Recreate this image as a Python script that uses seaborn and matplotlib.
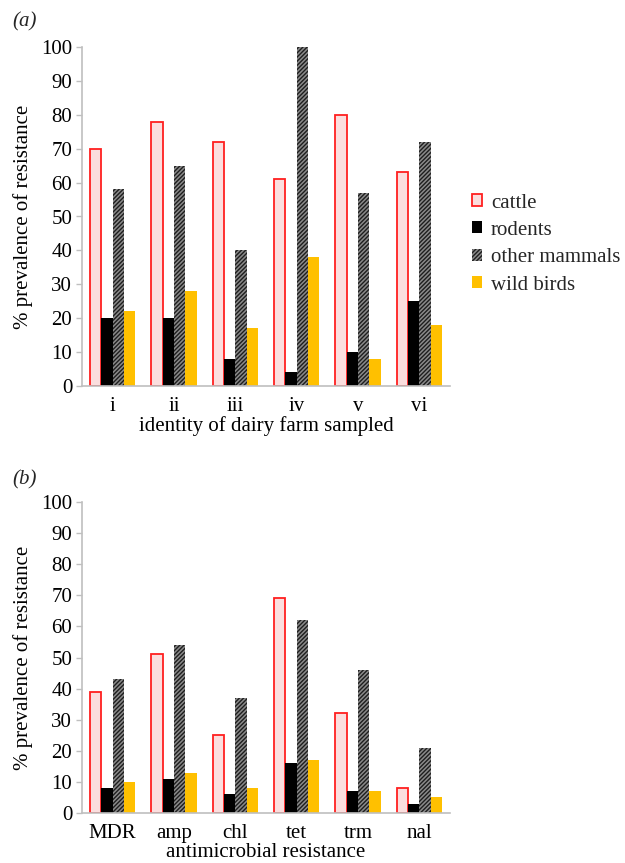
import matplotlib
matplotlib.use("Agg")
import matplotlib.pyplot as plt
import seaborn as sns
import pandas as pd
from matplotlib.patches import Patch

sns.set_theme(style="white")
plt.rcParams['font.family'] = ['Liberation Serif', 'DejaVu Serif']
plt.rcParams['hatch.linewidth'] = 1.0

series = ["cattle", "rodents", "other mammals", "wild birds"]

farms = ["i", "ii", "iii", "iv", "v", "vi"]
farm_cattle = [70, 78, 72, 61, 80, 63]
farm_rodents = [20, 20, 8, 4, 10, 25]
farm_other = [58, 65, 40, 100, 57, 72]
farm_birds = [22, 28, 17, 38, 8, 18]

drugs = ["MDR", "amp", "chl", "tet", "trm", "nal"]
drug_cattle = [39, 51, 25, 69, 32, 8]
drug_rodents = [8, 11, 6, 16, 7, 3]
drug_other = [43, 54, 37, 62, 46, 21]
drug_birds = [10, 13, 8, 17, 7, 5]

yticks = list(range(0, 101, 10))

styles = {
    "cattle": dict(facecolor="#fbdede", edgecolor="#ff2020", linewidth=1.3, hatch=None),
    "rodents": dict(facecolor="#000000", edgecolor="#000000", linewidth=0, hatch=None),
    "other mammals": dict(facecolor="#8a8a8a", edgecolor="#1e1e1e", linewidth=0, hatch="////////"),
    "wild birds": dict(facecolor="#ffc000", edgecolor="#ffc000", linewidth=0, hatch=None),
}


def make_df(cats, vals):
    rows = []
    for s, v in zip(series, vals):
        for c, x in zip(cats, v):
            rows.append({"cat": c, "series": s, "value": x})
    return pd.DataFrame(rows)


fig = plt.figure(figsize=(6.25, 8.63), dpi=100)
axA = fig.add_axes([82 / 625, 1 - 386 / 863, 368 / 625, 339 / 863])
axB = fig.add_axes([82 / 625, 1 - 813 / 863, 368 / 625, 311 / 863])

panels = [
    (axA, farms, [farm_cattle, farm_rodents, farm_other, farm_birds], "identity of dairy farm sampled"),
    (axB, drugs, [drug_cattle, drug_rodents, drug_other, drug_birds], "antimicrobial resistance"),
]

for ax, cats, vals, xlabel in panels:
    df = make_df(cats, vals)
    sns.barplot(data=df, x="cat", y="value", hue="series", order=cats,
                hue_order=series, width=0.74, ax=ax, legend=False,
                saturation=1)
    for s, cont in zip(series, ax.containers):
        st = styles[s]
        for p in cont.patches:
            p.set_facecolor(st["facecolor"])
            p.set_edgecolor(st["edgecolor"])
            p.set_linewidth(st["linewidth"])
            if st["hatch"]:
                p.set_hatch(st["hatch"])
    ax.set_xlim(-0.5, len(cats) - 0.5)
    ax.set_ylim(0, 100)
    ax.set_yticks(yticks)
    ax.tick_params(axis="y", left=True, length=4, width=1, color="#bfbfbf",
                   pad=3, labelsize=15, labelcolor="black")
    ax.tick_params(axis="x", bottom=False, length=0, pad=8, labelsize=15,
                   labelcolor="black")
    for sp in ["top", "right"]:
        ax.spines[sp].set_visible(False)
    for sp in ["left", "bottom"]:
        ax.spines[sp].set_color("#bfbfbf")
        ax.spines[sp].set_linewidth(1.2)
    ax.set_xlabel(xlabel, fontsize=15, labelpad=0, color="black")
    ax.set_ylabel("% prevalence of resistance", fontsize=15, labelpad=6, color="black")
    ax.grid(False)

fig.text(12 / 625, 1 - 22 / 863, "(a)", fontsize=15, style="italic", va="center", ha="left")
fig.text(12 / 625, 1 - 480 / 863, "(b)", fontsize=15, style="italic", va="center", ha="left")

handles = []
for s in series:
    st = styles[s]
    handles.append(Patch(facecolor=st["facecolor"], edgecolor=st["edgecolor"],
                         linewidth=st["linewidth"], hatch=st["hatch"], label=s))
fig.legend(handles=handles, loc="center left", bbox_to_anchor=(472 / 625, 1 - 244 / 863),
           frameon=False, fontsize=15, handlelength=0.5, handleheight=0.5,
           handletextpad=0.4, labelspacing=0.4, borderpad=0, borderaxespad=0)

fig.savefig("out.png", dpi=100)
